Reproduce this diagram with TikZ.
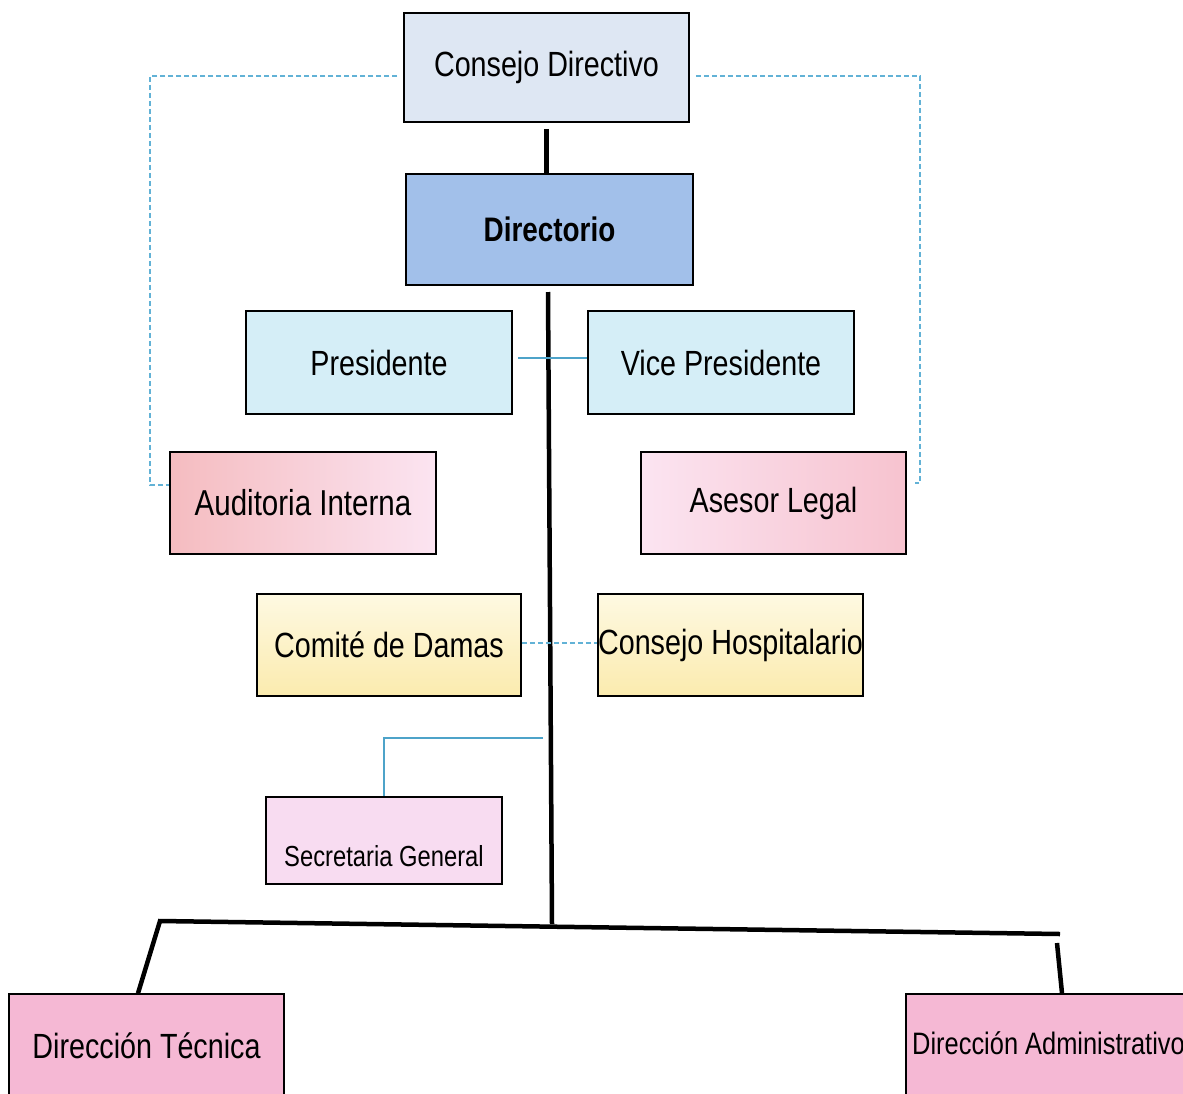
\documentclass[tikz,border=0pt]{standalone}
\usepackage{fontspec}
\setmainfont{Liberation Sans}[FakeStretch=0.82]
\usetikzlibrary{calc}
\definecolor{cdfill}{HTML}{DEE7F3}
\definecolor{dirfill}{HTML}{A2C0EA}
\definecolor{presfill}{HTML}{D5EEF7}
\definecolor{rosedeep}{HTML}{F5BCC0}
\definecolor{roselight}{HTML}{FBE4F1}
\definecolor{roseright}{HTML}{F7C3CF}
\definecolor{creamtop}{HTML}{FEF9E2}
\definecolor{creambot}{HTML}{FBEBAE}
\definecolor{secfill}{HTML}{F8DCF1}
\definecolor{dirpink}{HTML}{F5B8D4}
\definecolor{linkblue}{HTML}{4DA3C9}
\definecolor{dashblue}{HTML}{62B2D6}
\tikzset{
  orgbox/.style={draw=black, line width=1.5pt, inner sep=0pt,
    font=\fontsize{35}{40}\selectfont},
  trunk/.style={draw=black, line width=4.5pt},
  solidlink/.style={draw=linkblue, line width=1.4pt},
  dashlink/.style={draw=dashblue, line width=1.3pt, dash pattern=on 5pt off 3pt},
}
\begin{document}
\begin{tikzpicture}[x=1pt,y=-1pt]
\useasboundingbox (0,0) rectangle (1183,1093);
\clip (0,0) rectangle (1183,1093);

% boxes
\node[orgbox, fill=cdfill, minimum width=285pt, minimum height=109pt] (cd) at (546.5,67.5) {Consejo Directivo};
\node[orgbox, fill=dirfill, minimum width=287pt, minimum height=111pt,
      font=\fontsize{34}{40}\selectfont\bfseries] (dir) at (549.5,229.5) {Directorio};
\node[orgbox, fill=presfill, minimum width=266pt, minimum height=103pt] (pres) at (379,362.5) {Presidente};
\node[orgbox, fill=presfill, minimum width=266pt, minimum height=103pt] (vice) at (721,362.5) {Vice Presidente};
\node[orgbox, left color=rosedeep, right color=roselight, minimum width=266pt, minimum height=102pt,
      font=\fontsize{36}{40}\selectfont] (aud) at (303,503) {Auditoria Interna};
\node[orgbox, left color=roselight, right color=roseright, minimum width=265pt, minimum height=102pt] (ase) at (773.5,503) {Asesor Legal};
\node[orgbox, top color=creamtop, bottom color=creambot, minimum width=264pt, minimum height=102pt] (dam) at (389,645) {Comité de Damas};
\node[orgbox, top color=creamtop, bottom color=creambot, minimum width=263pt, minimum height=102pt] (hosp) at (730.5,645) {Consejo Hospitalario};
\node[orgbox, fill=secfill, minimum width=236pt, minimum height=87pt] (sec) at (384,840.5) {};
\node[font=\fontsize{29}{34}\selectfont, inner sep=0pt] (secText) at (384,856) {Secretaria General};
\node[orgbox, fill=dirpink, minimum width=275pt, minimum height=104pt] (dt) at (146.5,1046) {Dirección Técnica};
\node[orgbox, fill=dirpink, minimum width=290pt, minimum height=104pt] (da) at (1051,1046) {};
\node[font=\fontsize{31}{36}\selectfont, inner sep=0pt, anchor=west] (daText) at (912,1043) {Dirección Administrativo};

% main hierarchy
\draw[trunk] ([yshift=-6pt]cd.south) -- (cd.south |- dir.north);
\coordinate (trunkTop) at (548,292);
\coordinate (trunkEnd) at (552,924);
\draw[trunk] (trunkTop) -- (trunkEnd);
\coordinate (barL) at (160,921);
\coordinate (barR) at (1060,934);
\draw[trunk, line join=miter] ([xshift=-8.5pt]dt.north) -- (barL) -- (barR);
\coordinate (legR) at (1057,943);
\draw[trunk] (legR) -- ([xshift=11pt]da.north);

% staff links
\draw[solidlink] ([xshift=5pt]pres.east |- 0,358) -- (vice.west |- 0,358);
\draw[solidlink] (543,738) -| (sec.north);
\draw[dashlink] ([xshift=-6pt,yshift=-8.5pt]cd.west) -| (150,485) -- (aud.west |- 0,485);
\draw[dashlink] ([xshift=6pt,yshift=-8.5pt]cd.east) -| (920,483) -- (915,483);
\draw[dashlink] (dam.east |- 0,643) -- (hosp.west |- 0,643);
\end{tikzpicture}
\end{document}
